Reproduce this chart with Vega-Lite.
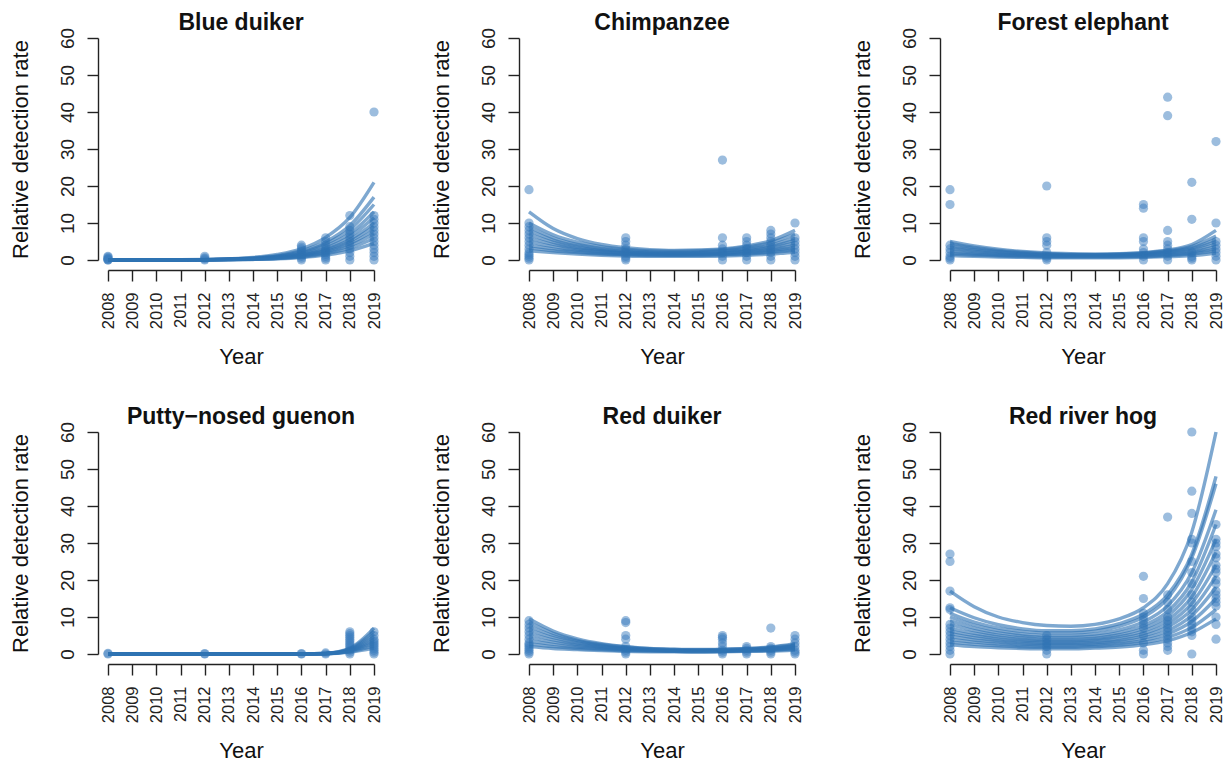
{
"$schema": "https://vega.github.io/schema/vega-lite/v6.json",
"background": "white",
"padding": {"left": 9, "top": 12, "right": 5, "bottom": 0},
"datasets": {
"names": [
{"s":1,"sp":"Blue duiker"},{"s":2,"sp":"Chimpanzee"},{"s":3,"sp":"Forest elephant"},
{"s":4,"sp":"Putty−nosed guenon"},{"s":5,"sp":"Red duiker"},{"s":6,"sp":"Red river hog"}
],
"d": [
{"s":1,"g":0,"x":2008,"v":0},{"s":1,"g":0,"x":2008,"v":0},{"s":1,"g":0,"x":2008,"v":0.2},{"s":1,"g":0,"x":2008,"v":0.3},{"s":1,"g":0,"x":2008,"v":0.5},{"s":1,"g":0,"x":2008,"v":0.8},{"s":1,"g":0,"x":2008,"v":1},
{"s":1,"g":0,"x":2012,"v":0},{"s":1,"g":0,"x":2012,"v":0.3},{"s":1,"g":0,"x":2012,"v":0.6},{"s":1,"g":0,"x":2012,"v":1},
{"s":1,"g":0,"x":2016,"v":0},{"s":1,"g":0,"x":2016,"v":0.5},{"s":1,"g":0,"x":2016,"v":1},{"s":1,"g":0,"x":2016,"v":1.5},{"s":1,"g":0,"x":2016,"v":2},{"s":1,"g":0,"x":2016,"v":2.5},{"s":1,"g":0,"x":2016,"v":3},{"s":1,"g":0,"x":2016,"v":3.5},{"s":1,"g":0,"x":2016,"v":4},
{"s":1,"g":0,"x":2017,"v":0},{"s":1,"g":0,"x":2017,"v":0.5},{"s":1,"g":0,"x":2017,"v":1},{"s":1,"g":0,"x":2017,"v":1.5},{"s":1,"g":0,"x":2017,"v":2},{"s":1,"g":0,"x":2017,"v":2.5},{"s":1,"g":0,"x":2017,"v":3},{"s":1,"g":0,"x":2017,"v":4},{"s":1,"g":0,"x":2017,"v":5},{"s":1,"g":0,"x":2017,"v":6},
{"s":1,"g":0,"x":2018,"v":0},{"s":1,"g":0,"x":2018,"v":1},{"s":1,"g":0,"x":2018,"v":2},{"s":1,"g":0,"x":2018,"v":3},{"s":1,"g":0,"x":2018,"v":4},{"s":1,"g":0,"x":2018,"v":5},{"s":1,"g":0,"x":2018,"v":6},{"s":1,"g":0,"x":2018,"v":7},{"s":1,"g":0,"x":2018,"v":8},{"s":1,"g":0,"x":2018,"v":9},{"s":1,"g":0,"x":2018,"v":12},
{"s":1,"g":0,"x":2019,"v":0},{"s":1,"g":0,"x":2019,"v":1},{"s":1,"g":0,"x":2019,"v":2},{"s":1,"g":0,"x":2019,"v":3},{"s":1,"g":0,"x":2019,"v":4},{"s":1,"g":0,"x":2019,"v":5},{"s":1,"g":0,"x":2019,"v":6},{"s":1,"g":0,"x":2019,"v":7},{"s":1,"g":0,"x":2019,"v":8},{"s":1,"g":0,"x":2019,"v":9},{"s":1,"g":0,"x":2019,"v":10},{"s":1,"g":0,"x":2019,"v":11},{"s":1,"g":0,"x":2019,"v":12},{"s":1,"g":0,"x":2019,"v":40},

{"s":2,"g":0,"x":2008,"v":19},{"s":2,"g":0,"x":2008,"v":10},{"s":2,"g":0,"x":2008,"v":9},{"s":2,"g":0,"x":2008,"v":8},{"s":2,"g":0,"x":2008,"v":7},{"s":2,"g":0,"x":2008,"v":6},{"s":2,"g":0,"x":2008,"v":5},{"s":2,"g":0,"x":2008,"v":4},{"s":2,"g":0,"x":2008,"v":3},{"s":2,"g":0,"x":2008,"v":2},{"s":2,"g":0,"x":2008,"v":1.5},{"s":2,"g":0,"x":2008,"v":1},{"s":2,"g":0,"x":2008,"v":0.5},{"s":2,"g":0,"x":2008,"v":0},
{"s":2,"g":0,"x":2012,"v":6},{"s":2,"g":0,"x":2012,"v":5},{"s":2,"g":0,"x":2012,"v":4},{"s":2,"g":0,"x":2012,"v":3},{"s":2,"g":0,"x":2012,"v":2},{"s":2,"g":0,"x":2012,"v":1},{"s":2,"g":0,"x":2012,"v":0.5},{"s":2,"g":0,"x":2012,"v":0},
{"s":2,"g":0,"x":2016,"v":27},{"s":2,"g":0,"x":2016,"v":6},{"s":2,"g":0,"x":2016,"v":4},{"s":2,"g":0,"x":2016,"v":3},{"s":2,"g":0,"x":2016,"v":2},{"s":2,"g":0,"x":2016,"v":1},{"s":2,"g":0,"x":2016,"v":0},
{"s":2,"g":0,"x":2017,"v":6},{"s":2,"g":0,"x":2017,"v":5},{"s":2,"g":0,"x":2017,"v":4},{"s":2,"g":0,"x":2017,"v":3},{"s":2,"g":0,"x":2017,"v":2},{"s":2,"g":0,"x":2017,"v":1},{"s":2,"g":0,"x":2017,"v":0},
{"s":2,"g":0,"x":2018,"v":8},{"s":2,"g":0,"x":2018,"v":7},{"s":2,"g":0,"x":2018,"v":6},{"s":2,"g":0,"x":2018,"v":5},{"s":2,"g":0,"x":2018,"v":4},{"s":2,"g":0,"x":2018,"v":3},{"s":2,"g":0,"x":2018,"v":2},{"s":2,"g":0,"x":2018,"v":1},{"s":2,"g":0,"x":2018,"v":0},
{"s":2,"g":0,"x":2019,"v":10},{"s":2,"g":0,"x":2019,"v":6},{"s":2,"g":0,"x":2019,"v":5},{"s":2,"g":0,"x":2019,"v":4},{"s":2,"g":0,"x":2019,"v":3},{"s":2,"g":0,"x":2019,"v":2},{"s":2,"g":0,"x":2019,"v":1},{"s":2,"g":0,"x":2019,"v":0},

{"s":3,"g":0,"x":2008,"v":19},{"s":3,"g":0,"x":2008,"v":15},{"s":3,"g":0,"x":2008,"v":4},{"s":3,"g":0,"x":2008,"v":3},{"s":3,"g":0,"x":2008,"v":2},{"s":3,"g":0,"x":2008,"v":1},{"s":3,"g":0,"x":2008,"v":0.5},{"s":3,"g":0,"x":2008,"v":0},
{"s":3,"g":0,"x":2012,"v":20},{"s":3,"g":0,"x":2012,"v":6},{"s":3,"g":0,"x":2012,"v":5},{"s":3,"g":0,"x":2012,"v":4},{"s":3,"g":0,"x":2012,"v":2},{"s":3,"g":0,"x":2012,"v":1},{"s":3,"g":0,"x":2012,"v":0.5},{"s":3,"g":0,"x":2012,"v":0},
{"s":3,"g":0,"x":2016,"v":15},{"s":3,"g":0,"x":2016,"v":14},{"s":3,"g":0,"x":2016,"v":6},{"s":3,"g":0,"x":2016,"v":5},{"s":3,"g":0,"x":2016,"v":3},{"s":3,"g":0,"x":2016,"v":2},{"s":3,"g":0,"x":2016,"v":1},{"s":3,"g":0,"x":2016,"v":0},
{"s":3,"g":0,"x":2017,"v":44},{"s":3,"g":0,"x":2017,"v":39},{"s":3,"g":0,"x":2017,"v":8},{"s":3,"g":0,"x":2017,"v":5},{"s":3,"g":0,"x":2017,"v":4},{"s":3,"g":0,"x":2017,"v":3},{"s":3,"g":0,"x":2017,"v":2},{"s":3,"g":0,"x":2017,"v":1},{"s":3,"g":0,"x":2017,"v":0},
{"s":3,"g":0,"x":2018,"v":21},{"s":3,"g":0,"x":2018,"v":11},{"s":3,"g":0,"x":2018,"v":2},{"s":3,"g":0,"x":2018,"v":1},{"s":3,"g":0,"x":2018,"v":0.5},{"s":3,"g":0,"x":2018,"v":0},
{"s":3,"g":0,"x":2019,"v":32},{"s":3,"g":0,"x":2019,"v":10},{"s":3,"g":0,"x":2019,"v":5},{"s":3,"g":0,"x":2019,"v":4},{"s":3,"g":0,"x":2019,"v":3},{"s":3,"g":0,"x":2019,"v":2},{"s":3,"g":0,"x":2019,"v":1},{"s":3,"g":0,"x":2019,"v":0},

{"s":4,"g":0,"x":2008,"v":0},{"s":4,"g":0,"x":2008,"v":0.2},{"s":4,"g":0,"x":2012,"v":0},{"s":4,"g":0,"x":2012,"v":0.1},{"s":4,"g":0,"x":2016,"v":0},{"s":4,"g":0,"x":2016,"v":0.1},{"s":4,"g":0,"x":2017,"v":0},{"s":4,"g":0,"x":2017,"v":0.3},
{"s":4,"g":0,"x":2018,"v":0},{"s":4,"g":0,"x":2018,"v":0.5},{"s":4,"g":0,"x":2018,"v":1},{"s":4,"g":0,"x":2018,"v":1.5},{"s":4,"g":0,"x":2018,"v":2},{"s":4,"g":0,"x":2018,"v":2.5},{"s":4,"g":0,"x":2018,"v":3},{"s":4,"g":0,"x":2018,"v":3.5},{"s":4,"g":0,"x":2018,"v":4},{"s":4,"g":0,"x":2018,"v":4.5},{"s":4,"g":0,"x":2018,"v":5},{"s":4,"g":0,"x":2018,"v":5.5},{"s":4,"g":0,"x":2018,"v":6},
{"s":4,"g":0,"x":2019,"v":0},{"s":4,"g":0,"x":2019,"v":0.5},{"s":4,"g":0,"x":2019,"v":1},{"s":4,"g":0,"x":2019,"v":1.5},{"s":4,"g":0,"x":2019,"v":2},{"s":4,"g":0,"x":2019,"v":2.5},{"s":4,"g":0,"x":2019,"v":3},{"s":4,"g":0,"x":2019,"v":3.5},{"s":4,"g":0,"x":2019,"v":4},{"s":4,"g":0,"x":2019,"v":5},{"s":4,"g":0,"x":2019,"v":6},

{"s":5,"g":0,"x":2008,"v":9},{"s":5,"g":0,"x":2008,"v":8},{"s":5,"g":0,"x":2008,"v":7},{"s":5,"g":0,"x":2008,"v":6},{"s":5,"g":0,"x":2008,"v":5},{"s":5,"g":0,"x":2008,"v":4},{"s":5,"g":0,"x":2008,"v":3},{"s":5,"g":0,"x":2008,"v":2.5},{"s":5,"g":0,"x":2008,"v":2},{"s":5,"g":0,"x":2008,"v":1.5},{"s":5,"g":0,"x":2008,"v":1},{"s":5,"g":0,"x":2008,"v":0.5},{"s":5,"g":0,"x":2008,"v":0},
{"s":5,"g":0,"x":2012,"v":9},{"s":5,"g":0,"x":2012,"v":8.5},{"s":5,"g":0,"x":2012,"v":5},{"s":5,"g":0,"x":2012,"v":4},{"s":5,"g":0,"x":2012,"v":2},{"s":5,"g":0,"x":2012,"v":1},{"s":5,"g":0,"x":2012,"v":0.5},{"s":5,"g":0,"x":2012,"v":0},
{"s":5,"g":0,"x":2016,"v":5},{"s":5,"g":0,"x":2016,"v":4.5},{"s":5,"g":0,"x":2016,"v":4},{"s":5,"g":0,"x":2016,"v":3},{"s":5,"g":0,"x":2016,"v":2},{"s":5,"g":0,"x":2016,"v":1},{"s":5,"g":0,"x":2016,"v":0.5},{"s":5,"g":0,"x":2016,"v":0},
{"s":5,"g":0,"x":2017,"v":2},{"s":5,"g":0,"x":2017,"v":1.5},{"s":5,"g":0,"x":2017,"v":1},{"s":5,"g":0,"x":2017,"v":0.5},{"s":5,"g":0,"x":2017,"v":0},
{"s":5,"g":0,"x":2018,"v":7},{"s":5,"g":0,"x":2018,"v":2},{"s":5,"g":0,"x":2018,"v":1.5},{"s":5,"g":0,"x":2018,"v":1},{"s":5,"g":0,"x":2018,"v":0.5},{"s":5,"g":0,"x":2018,"v":0},
{"s":5,"g":0,"x":2019,"v":5},{"s":5,"g":0,"x":2019,"v":4},{"s":5,"g":0,"x":2019,"v":3},{"s":5,"g":0,"x":2019,"v":2},{"s":5,"g":0,"x":2019,"v":1},{"s":5,"g":0,"x":2019,"v":0.5},{"s":5,"g":0,"x":2019,"v":0},

{"s":6,"g":0,"x":2008,"v":27},{"s":6,"g":0,"x":2008,"v":25},{"s":6,"g":0,"x":2008,"v":17},{"s":6,"g":0,"x":2008,"v":12.5},{"s":6,"g":0,"x":2008,"v":12},{"s":6,"g":0,"x":2008,"v":8},{"s":6,"g":0,"x":2008,"v":7},{"s":6,"g":0,"x":2008,"v":6},{"s":6,"g":0,"x":2008,"v":5},{"s":6,"g":0,"x":2008,"v":4},{"s":6,"g":0,"x":2008,"v":3},{"s":6,"g":0,"x":2008,"v":2},{"s":6,"g":0,"x":2008,"v":1},{"s":6,"g":0,"x":2008,"v":0},
{"s":6,"g":0,"x":2012,"v":5},{"s":6,"g":0,"x":2012,"v":4},{"s":6,"g":0,"x":2012,"v":3},{"s":6,"g":0,"x":2012,"v":2},{"s":6,"g":0,"x":2012,"v":1},{"s":6,"g":0,"x":2012,"v":0},
{"s":6,"g":0,"x":2016,"v":21},{"s":6,"g":0,"x":2016,"v":15},{"s":6,"g":0,"x":2016,"v":11},{"s":6,"g":0,"x":2016,"v":10},{"s":6,"g":0,"x":2016,"v":9},{"s":6,"g":0,"x":2016,"v":8},{"s":6,"g":0,"x":2016,"v":7},{"s":6,"g":0,"x":2016,"v":5},{"s":6,"g":0,"x":2016,"v":3},{"s":6,"g":0,"x":2016,"v":1},{"s":6,"g":0,"x":2016,"v":0},
{"s":6,"g":0,"x":2017,"v":37},{"s":6,"g":0,"x":2017,"v":16},{"s":6,"g":0,"x":2017,"v":14},{"s":6,"g":0,"x":2017,"v":12},{"s":6,"g":0,"x":2017,"v":10},{"s":6,"g":0,"x":2017,"v":9},{"s":6,"g":0,"x":2017,"v":8},{"s":6,"g":0,"x":2017,"v":7},{"s":6,"g":0,"x":2017,"v":6},{"s":6,"g":0,"x":2017,"v":5},{"s":6,"g":0,"x":2017,"v":4},{"s":6,"g":0,"x":2017,"v":3},{"s":6,"g":0,"x":2017,"v":2},{"s":6,"g":0,"x":2017,"v":1},
{"s":6,"g":0,"x":2018,"v":60},{"s":6,"g":0,"x":2018,"v":44},{"s":6,"g":0,"x":2018,"v":38},{"s":6,"g":0,"x":2018,"v":31},{"s":6,"g":0,"x":2018,"v":30},{"s":6,"g":0,"x":2018,"v":25},{"s":6,"g":0,"x":2018,"v":22},{"s":6,"g":0,"x":2018,"v":19},{"s":6,"g":0,"x":2018,"v":16},{"s":6,"g":0,"x":2018,"v":14},{"s":6,"g":0,"x":2018,"v":12},{"s":6,"g":0,"x":2018,"v":10},{"s":6,"g":0,"x":2018,"v":9},{"s":6,"g":0,"x":2018,"v":8},{"s":6,"g":0,"x":2018,"v":7},{"s":6,"g":0,"x":2018,"v":6},{"s":6,"g":0,"x":2018,"v":5},{"s":6,"g":0,"x":2018,"v":0},
{"s":6,"g":0,"x":2019,"v":35},{"s":6,"g":0,"x":2019,"v":31},{"s":6,"g":0,"x":2019,"v":30},{"s":6,"g":0,"x":2019,"v":29},{"s":6,"g":0,"x":2019,"v":27},{"s":6,"g":0,"x":2019,"v":26},{"s":6,"g":0,"x":2019,"v":24},{"s":6,"g":0,"x":2019,"v":23},{"s":6,"g":0,"x":2019,"v":22},{"s":6,"g":0,"x":2019,"v":20},{"s":6,"g":0,"x":2019,"v":19},{"s":6,"g":0,"x":2019,"v":17},{"s":6,"g":0,"x":2019,"v":16},{"s":6,"g":0,"x":2019,"v":15},{"s":6,"g":0,"x":2019,"v":14},{"s":6,"g":0,"x":2019,"v":13},{"s":6,"g":0,"x":2019,"v":10},{"s":6,"g":0,"x":2019,"v":8},{"s":6,"g":0,"x":2019,"v":4},

{"s":1,"g":1,"x":2008,"v":0.01},{"s":1,"g":1,"x":2009,"v":0.02},{"s":1,"g":1,"x":2010,"v":0.03},{"s":1,"g":1,"x":2011,"v":0.06},{"s":1,"g":1,"x":2012,"v":0.15},{"s":1,"g":1,"x":2013,"v":0.34},{"s":1,"g":1,"x":2014,"v":0.7},{"s":1,"g":1,"x":2015,"v":1.5},{"s":1,"g":1,"x":2016,"v":3.0},{"s":1,"g":1,"x":2017,"v":6.1},{"s":1,"g":1,"x":2018,"v":11.5},{"s":1,"g":1,"x":2019,"v":21},
{"s":1,"g":2,"x":2008,"v":0.01},{"s":1,"g":2,"x":2009,"v":0.01},{"s":1,"g":2,"x":2010,"v":0.03},{"s":1,"g":2,"x":2011,"v":0.05},{"s":1,"g":2,"x":2012,"v":0.12},{"s":1,"g":2,"x":2013,"v":0.27},{"s":1,"g":2,"x":2014,"v":0.56},{"s":1,"g":2,"x":2015,"v":1.2},{"s":1,"g":2,"x":2016,"v":2.5},{"s":1,"g":2,"x":2017,"v":4.9},{"s":1,"g":2,"x":2018,"v":9.3},{"s":1,"g":2,"x":2019,"v":17},
{"s":1,"g":3,"x":2008,"v":0.01},{"s":1,"g":3,"x":2009,"v":0.01},{"s":1,"g":3,"x":2010,"v":0.02},{"s":1,"g":3,"x":2011,"v":0.05},{"s":1,"g":3,"x":2012,"v":0.1},{"s":1,"g":3,"x":2013,"v":0.24},{"s":1,"g":3,"x":2014,"v":0.5},{"s":1,"g":3,"x":2015,"v":1.05},{"s":1,"g":3,"x":2016,"v":2.2},{"s":1,"g":3,"x":2017,"v":4.4},{"s":1,"g":3,"x":2018,"v":8.2},{"s":1,"g":3,"x":2019,"v":15},
{"s":1,"g":4,"x":2008,"v":0.01},{"s":1,"g":4,"x":2009,"v":0.01},{"s":1,"g":4,"x":2010,"v":0.02},{"s":1,"g":4,"x":2011,"v":0.04},{"s":1,"g":4,"x":2012,"v":0.09},{"s":1,"g":4,"x":2013,"v":0.21},{"s":1,"g":4,"x":2014,"v":0.43},{"s":1,"g":4,"x":2015,"v":0.9},{"s":1,"g":4,"x":2016,"v":1.9},{"s":1,"g":4,"x":2017,"v":3.8},{"s":1,"g":4,"x":2018,"v":7.1},{"s":1,"g":4,"x":2019,"v":13},
{"s":1,"g":5,"x":2008,"v":0.01},{"s":1,"g":5,"x":2009,"v":0.01},{"s":1,"g":5,"x":2010,"v":0.02},{"s":1,"g":5,"x":2011,"v":0.04},{"s":1,"g":5,"x":2012,"v":0.08},{"s":1,"g":5,"x":2013,"v":0.18},{"s":1,"g":5,"x":2014,"v":0.38},{"s":1,"g":5,"x":2015,"v":0.8},{"s":1,"g":5,"x":2016,"v":1.7},{"s":1,"g":5,"x":2017,"v":3.3},{"s":1,"g":5,"x":2018,"v":6.3},{"s":1,"g":5,"x":2019,"v":11.5},
{"s":1,"g":6,"x":2008,"v":0.01},{"s":1,"g":6,"x":2009,"v":0.01},{"s":1,"g":6,"x":2010,"v":0.02},{"s":1,"g":6,"x":2011,"v":0.03},{"s":1,"g":6,"x":2012,"v":0.07},{"s":1,"g":6,"x":2013,"v":0.16},{"s":1,"g":6,"x":2014,"v":0.33},{"s":1,"g":6,"x":2015,"v":0.7},{"s":1,"g":6,"x":2016,"v":1.45},{"s":1,"g":6,"x":2017,"v":2.9},{"s":1,"g":6,"x":2018,"v":5.5},{"s":1,"g":6,"x":2019,"v":10},
{"s":1,"g":7,"x":2008,"v":0},{"s":1,"g":7,"x":2009,"v":0.01},{"s":1,"g":7,"x":2010,"v":0.01},{"s":1,"g":7,"x":2011,"v":0.03},{"s":1,"g":7,"x":2012,"v":0.06},{"s":1,"g":7,"x":2013,"v":0.14},{"s":1,"g":7,"x":2014,"v":0.3},{"s":1,"g":7,"x":2015,"v":0.63},{"s":1,"g":7,"x":2016,"v":1.3},{"s":1,"g":7,"x":2017,"v":2.6},{"s":1,"g":7,"x":2018,"v":5.0},{"s":1,"g":7,"x":2019,"v":9},
{"s":1,"g":8,"x":2008,"v":0},{"s":1,"g":8,"x":2009,"v":0.01},{"s":1,"g":8,"x":2010,"v":0.01},{"s":1,"g":8,"x":2011,"v":0.02},{"s":1,"g":8,"x":2012,"v":0.05},{"s":1,"g":8,"x":2013,"v":0.12},{"s":1,"g":8,"x":2014,"v":0.26},{"s":1,"g":8,"x":2015,"v":0.56},{"s":1,"g":8,"x":2016,"v":1.16},{"s":1,"g":8,"x":2017,"v":2.3},{"s":1,"g":8,"x":2018,"v":4.4},{"s":1,"g":8,"x":2019,"v":8},
{"s":1,"g":9,"x":2008,"v":0},{"s":1,"g":9,"x":2009,"v":0},{"s":1,"g":9,"x":2010,"v":0.01},{"s":1,"g":9,"x":2011,"v":0.02},{"s":1,"g":9,"x":2012,"v":0.05},{"s":1,"g":9,"x":2013,"v":0.11},{"s":1,"g":9,"x":2014,"v":0.23},{"s":1,"g":9,"x":2015,"v":0.49},{"s":1,"g":9,"x":2016,"v":1.0},{"s":1,"g":9,"x":2017,"v":2.0},{"s":1,"g":9,"x":2018,"v":3.9},{"s":1,"g":9,"x":2019,"v":7},
{"s":1,"g":10,"x":2008,"v":0},{"s":1,"g":10,"x":2009,"v":0},{"s":1,"g":10,"x":2010,"v":0.01},{"s":1,"g":10,"x":2011,"v":0.02},{"s":1,"g":10,"x":2012,"v":0.04},{"s":1,"g":10,"x":2013,"v":0.09},{"s":1,"g":10,"x":2014,"v":0.19},{"s":1,"g":10,"x":2015,"v":0.4},{"s":1,"g":10,"x":2016,"v":0.85},{"s":1,"g":10,"x":2017,"v":1.7},{"s":1,"g":10,"x":2018,"v":3.2},{"s":1,"g":10,"x":2019,"v":5.8},
{"s":1,"g":11,"x":2008,"v":0},{"s":1,"g":11,"x":2009,"v":0},{"s":1,"g":11,"x":2010,"v":0.01},{"s":1,"g":11,"x":2011,"v":0.01},{"s":1,"g":11,"x":2012,"v":0.03},{"s":1,"g":11,"x":2013,"v":0.07},{"s":1,"g":11,"x":2014,"v":0.15},{"s":1,"g":11,"x":2015,"v":0.31},{"s":1,"g":11,"x":2016,"v":0.65},{"s":1,"g":11,"x":2017,"v":1.3},{"s":1,"g":11,"x":2018,"v":2.5},{"s":1,"g":11,"x":2019,"v":4.5},

{"s":2,"g":1,"x":2008,"v":13},{"s":2,"g":1,"x":2009,"v":8.5},{"s":2,"g":1,"x":2010,"v":5.8},{"s":2,"g":1,"x":2011,"v":4.2},{"s":2,"g":1,"x":2012,"v":3.3},{"s":2,"g":1,"x":2013,"v":2.8},{"s":2,"g":1,"x":2014,"v":2.6},{"s":2,"g":1,"x":2015,"v":2.7},{"s":2,"g":1,"x":2016,"v":3.0},{"s":2,"g":1,"x":2017,"v":3.8},{"s":2,"g":1,"x":2018,"v":5.2},{"s":2,"g":1,"x":2019,"v":8.0},
{"s":2,"g":2,"x":2008,"v":10},{"s":2,"g":2,"x":2009,"v":6.8},{"s":2,"g":2,"x":2010,"v":4.8},{"s":2,"g":2,"x":2011,"v":3.6},{"s":2,"g":2,"x":2012,"v":2.9},{"s":2,"g":2,"x":2013,"v":2.5},{"s":2,"g":2,"x":2014,"v":2.4},{"s":2,"g":2,"x":2015,"v":2.5},{"s":2,"g":2,"x":2016,"v":2.8},{"s":2,"g":2,"x":2017,"v":3.5},{"s":2,"g":2,"x":2018,"v":4.7},{"s":2,"g":2,"x":2019,"v":7.0},
{"s":2,"g":3,"x":2008,"v":9},{"s":2,"g":3,"x":2009,"v":6.0},{"s":2,"g":3,"x":2010,"v":4.2},{"s":2,"g":3,"x":2011,"v":3.1},{"s":2,"g":3,"x":2012,"v":2.5},{"s":2,"g":3,"x":2013,"v":2.2},{"s":2,"g":3,"x":2014,"v":2.1},{"s":2,"g":3,"x":2015,"v":2.2},{"s":2,"g":3,"x":2016,"v":2.5},{"s":2,"g":3,"x":2017,"v":3.1},{"s":2,"g":3,"x":2018,"v":4.1},{"s":2,"g":3,"x":2019,"v":6.0},
{"s":2,"g":4,"x":2008,"v":8},{"s":2,"g":4,"x":2009,"v":5.4},{"s":2,"g":4,"x":2010,"v":3.8},{"s":2,"g":4,"x":2011,"v":2.8},{"s":2,"g":4,"x":2012,"v":2.3},{"s":2,"g":4,"x":2013,"v":2.0},{"s":2,"g":4,"x":2014,"v":1.9},{"s":2,"g":4,"x":2015,"v":2.0},{"s":2,"g":4,"x":2016,"v":2.3},{"s":2,"g":4,"x":2017,"v":2.8},{"s":2,"g":4,"x":2018,"v":3.7},{"s":2,"g":4,"x":2019,"v":5.3},
{"s":2,"g":5,"x":2008,"v":7},{"s":2,"g":5,"x":2009,"v":4.8},{"s":2,"g":5,"x":2010,"v":3.4},{"s":2,"g":5,"x":2011,"v":2.6},{"s":2,"g":5,"x":2012,"v":2.1},{"s":2,"g":5,"x":2013,"v":1.8},{"s":2,"g":5,"x":2014,"v":1.7},{"s":2,"g":5,"x":2015,"v":1.8},{"s":2,"g":5,"x":2016,"v":2.0},{"s":2,"g":5,"x":2017,"v":2.5},{"s":2,"g":5,"x":2018,"v":3.3},{"s":2,"g":5,"x":2019,"v":4.6},
{"s":2,"g":6,"x":2008,"v":6},{"s":2,"g":6,"x":2009,"v":4.2},{"s":2,"g":6,"x":2010,"v":3.0},{"s":2,"g":6,"x":2011,"v":2.3},{"s":2,"g":6,"x":2012,"v":1.9},{"s":2,"g":6,"x":2013,"v":1.7},{"s":2,"g":6,"x":2014,"v":1.6},{"s":2,"g":6,"x":2015,"v":1.7},{"s":2,"g":6,"x":2016,"v":1.9},{"s":2,"g":6,"x":2017,"v":2.3},{"s":2,"g":6,"x":2018,"v":2.9},{"s":2,"g":6,"x":2019,"v":4.0},
{"s":2,"g":7,"x":2008,"v":5},{"s":2,"g":7,"x":2009,"v":3.6},{"s":2,"g":7,"x":2010,"v":2.7},{"s":2,"g":7,"x":2011,"v":2.1},{"s":2,"g":7,"x":2012,"v":1.7},{"s":2,"g":7,"x":2013,"v":1.5},{"s":2,"g":7,"x":2014,"v":1.5},{"s":2,"g":7,"x":2015,"v":1.5},{"s":2,"g":7,"x":2016,"v":1.7},{"s":2,"g":7,"x":2017,"v":2.1},{"s":2,"g":7,"x":2018,"v":2.6},{"s":2,"g":7,"x":2019,"v":3.5},
{"s":2,"g":8,"x":2008,"v":4},{"s":2,"g":8,"x":2009,"v":3.0},{"s":2,"g":8,"x":2010,"v":2.3},{"s":2,"g":8,"x":2011,"v":1.8},{"s":2,"g":8,"x":2012,"v":1.5},{"s":2,"g":8,"x":2013,"v":1.4},{"s":2,"g":8,"x":2014,"v":1.3},{"s":2,"g":8,"x":2015,"v":1.4},{"s":2,"g":8,"x":2016,"v":1.5},{"s":2,"g":8,"x":2017,"v":1.8},{"s":2,"g":8,"x":2018,"v":2.3},{"s":2,"g":8,"x":2019,"v":3.0},
{"s":2,"g":9,"x":2008,"v":3.2},{"s":2,"g":9,"x":2009,"v":2.5},{"s":2,"g":9,"x":2010,"v":2.0},{"s":2,"g":9,"x":2011,"v":1.6},{"s":2,"g":9,"x":2012,"v":1.4},{"s":2,"g":9,"x":2013,"v":1.2},{"s":2,"g":9,"x":2014,"v":1.2},{"s":2,"g":9,"x":2015,"v":1.2},{"s":2,"g":9,"x":2016,"v":1.4},{"s":2,"g":9,"x":2017,"v":1.6},{"s":2,"g":9,"x":2018,"v":2.0},{"s":2,"g":9,"x":2019,"v":2.6},
{"s":2,"g":10,"x":2008,"v":2.5},{"s":2,"g":10,"x":2009,"v":2.0},{"s":2,"g":10,"x":2010,"v":1.6},{"s":2,"g":10,"x":2011,"v":1.3},{"s":2,"g":10,"x":2012,"v":1.1},{"s":2,"g":10,"x":2013,"v":1.0},{"s":2,"g":10,"x":2014,"v":1.0},{"s":2,"g":10,"x":2015,"v":1.0},{"s":2,"g":10,"x":2016,"v":1.1},{"s":2,"g":10,"x":2017,"v":1.3},{"s":2,"g":10,"x":2018,"v":1.6},{"s":2,"g":10,"x":2019,"v":2.1},

{"s":3,"g":1,"x":2008,"v":5.0},{"s":3,"g":1,"x":2009,"v":3.8},{"s":3,"g":1,"x":2010,"v":2.9},{"s":3,"g":1,"x":2011,"v":2.3},{"s":3,"g":1,"x":2012,"v":1.9},{"s":3,"g":1,"x":2013,"v":1.7},{"s":3,"g":1,"x":2014,"v":1.6},{"s":3,"g":1,"x":2015,"v":1.7},{"s":3,"g":1,"x":2016,"v":2.0},{"s":3,"g":1,"x":2017,"v":2.7},{"s":3,"g":1,"x":2018,"v":4.2},{"s":3,"g":1,"x":2019,"v":8.0},
{"s":3,"g":2,"x":2008,"v":4.5},{"s":3,"g":2,"x":2009,"v":3.4},{"s":3,"g":2,"x":2010,"v":2.6},{"s":3,"g":2,"x":2011,"v":2.1},{"s":3,"g":2,"x":2012,"v":1.7},{"s":3,"g":2,"x":2013,"v":1.5},{"s":3,"g":2,"x":2014,"v":1.5},{"s":3,"g":2,"x":2015,"v":1.6},{"s":3,"g":2,"x":2016,"v":1.9},{"s":3,"g":2,"x":2017,"v":2.5},{"s":3,"g":2,"x":2018,"v":3.7},{"s":3,"g":2,"x":2019,"v":6.5},
{"s":3,"g":3,"x":2008,"v":4.0},{"s":3,"g":3,"x":2009,"v":3.0},{"s":3,"g":3,"x":2010,"v":2.3},{"s":3,"g":3,"x":2011,"v":1.9},{"s":3,"g":3,"x":2012,"v":1.6},{"s":3,"g":3,"x":2013,"v":1.4},{"s":3,"g":3,"x":2014,"v":1.4},{"s":3,"g":3,"x":2015,"v":1.5},{"s":3,"g":3,"x":2016,"v":1.8},{"s":3,"g":3,"x":2017,"v":2.3},{"s":3,"g":3,"x":2018,"v":3.3},{"s":3,"g":3,"x":2019,"v":5.6},
{"s":3,"g":4,"x":2008,"v":3.5},{"s":3,"g":4,"x":2009,"v":2.7},{"s":3,"g":4,"x":2010,"v":2.1},{"s":3,"g":4,"x":2011,"v":1.7},{"s":3,"g":4,"x":2012,"v":1.4},{"s":3,"g":4,"x":2013,"v":1.3},{"s":3,"g":4,"x":2014,"v":1.3},{"s":3,"g":4,"x":2015,"v":1.4},{"s":3,"g":4,"x":2016,"v":1.6},{"s":3,"g":4,"x":2017,"v":2.1},{"s":3,"g":4,"x":2018,"v":3.0},{"s":3,"g":4,"x":2019,"v":5.0},
{"s":3,"g":5,"x":2008,"v":3.0},{"s":3,"g":5,"x":2009,"v":2.3},{"s":3,"g":5,"x":2010,"v":1.8},{"s":3,"g":5,"x":2011,"v":1.5},{"s":3,"g":5,"x":2012,"v":1.3},{"s":3,"g":5,"x":2013,"v":1.2},{"s":3,"g":5,"x":2014,"v":1.2},{"s":3,"g":5,"x":2015,"v":1.3},{"s":3,"g":5,"x":2016,"v":1.5},{"s":3,"g":5,"x":2017,"v":1.9},{"s":3,"g":5,"x":2018,"v":2.6},{"s":3,"g":5,"x":2019,"v":4.3},
{"s":3,"g":6,"x":2008,"v":2.5},{"s":3,"g":6,"x":2009,"v":1.9},{"s":3,"g":6,"x":2010,"v":1.5},{"s":3,"g":6,"x":2011,"v":1.3},{"s":3,"g":6,"x":2012,"v":1.1},{"s":3,"g":6,"x":2013,"v":1.0},{"s":3,"g":6,"x":2014,"v":1.0},{"s":3,"g":6,"x":2015,"v":1.1},{"s":3,"g":6,"x":2016,"v":1.3},{"s":3,"g":6,"x":2017,"v":1.6},{"s":3,"g":6,"x":2018,"v":2.2},{"s":3,"g":6,"x":2019,"v":3.6},
{"s":3,"g":7,"x":2008,"v":2.0},{"s":3,"g":7,"x":2009,"v":1.6},{"s":3,"g":7,"x":2010,"v":1.3},{"s":3,"g":7,"x":2011,"v":1.1},{"s":3,"g":7,"x":2012,"v":1.0},{"s":3,"g":7,"x":2013,"v":0.9},{"s":3,"g":7,"x":2014,"v":0.9},{"s":3,"g":7,"x":2015,"v":1.0},{"s":3,"g":7,"x":2016,"v":1.1},{"s":3,"g":7,"x":2017,"v":1.4},{"s":3,"g":7,"x":2018,"v":1.9},{"s":3,"g":7,"x":2019,"v":3.0},
{"s":3,"g":8,"x":2008,"v":1.6},{"s":3,"g":8,"x":2009,"v":1.3},{"s":3,"g":8,"x":2010,"v":1.1},{"s":3,"g":8,"x":2011,"v":0.9},{"s":3,"g":8,"x":2012,"v":0.8},{"s":3,"g":8,"x":2013,"v":0.8},{"s":3,"g":8,"x":2014,"v":0.8},{"s":3,"g":8,"x":2015,"v":0.8},{"s":3,"g":8,"x":2016,"v":0.9},{"s":3,"g":8,"x":2017,"v":1.2},{"s":3,"g":8,"x":2018,"v":1.6},{"s":3,"g":8,"x":2019,"v":2.5},
{"s":3,"g":9,"x":2008,"v":1.2},{"s":3,"g":9,"x":2009,"v":1.0},{"s":3,"g":9,"x":2010,"v":0.8},{"s":3,"g":9,"x":2011,"v":0.7},{"s":3,"g":9,"x":2012,"v":0.6},{"s":3,"g":9,"x":2013,"v":0.6},{"s":3,"g":9,"x":2014,"v":0.6},{"s":3,"g":9,"x":2015,"v":0.6},{"s":3,"g":9,"x":2016,"v":0.7},{"s":3,"g":9,"x":2017,"v":0.9},{"s":3,"g":9,"x":2018,"v":1.2},{"s":3,"g":9,"x":2019,"v":1.9},

{"s":4,"g":1,"x":2008,"v":0},{"s":4,"g":1,"x":2009,"v":0},{"s":4,"g":1,"x":2010,"v":0},{"s":4,"g":1,"x":2011,"v":0},{"s":4,"g":1,"x":2012,"v":0},{"s":4,"g":1,"x":2013,"v":0},{"s":4,"g":1,"x":2014,"v":0},{"s":4,"g":1,"x":2015,"v":0.01},{"s":4,"g":1,"x":2016,"v":0.03},{"s":4,"g":1,"x":2017,"v":0.2},{"s":4,"g":1,"x":2018,"v":1.6},{"s":4,"g":1,"x":2019,"v":7.0},
{"s":4,"g":2,"x":2008,"v":0},{"s":4,"g":2,"x":2009,"v":0},{"s":4,"g":2,"x":2010,"v":0},{"s":4,"g":2,"x":2011,"v":0},{"s":4,"g":2,"x":2012,"v":0},{"s":4,"g":2,"x":2013,"v":0},{"s":4,"g":2,"x":2014,"v":0},{"s":4,"g":2,"x":2015,"v":0.01},{"s":4,"g":2,"x":2016,"v":0.03},{"s":4,"g":2,"x":2017,"v":0.18},{"s":4,"g":2,"x":2018,"v":1.4},{"s":4,"g":2,"x":2019,"v":6.2},
{"s":4,"g":3,"x":2008,"v":0},{"s":4,"g":3,"x":2009,"v":0},{"s":4,"g":3,"x":2010,"v":0},{"s":4,"g":3,"x":2011,"v":0},{"s":4,"g":3,"x":2012,"v":0},{"s":4,"g":3,"x":2013,"v":0},{"s":4,"g":3,"x":2014,"v":0},{"s":4,"g":3,"x":2015,"v":0.01},{"s":4,"g":3,"x":2016,"v":0.02},{"s":4,"g":3,"x":2017,"v":0.15},{"s":4,"g":3,"x":2018,"v":1.25},{"s":4,"g":3,"x":2019,"v":5.4},
{"s":4,"g":4,"x":2008,"v":0},{"s":4,"g":4,"x":2009,"v":0},{"s":4,"g":4,"x":2010,"v":0},{"s":4,"g":4,"x":2011,"v":0},{"s":4,"g":4,"x":2012,"v":0},{"s":4,"g":4,"x":2013,"v":0},{"s":4,"g":4,"x":2014,"v":0},{"s":4,"g":4,"x":2015,"v":0.01},{"s":4,"g":4,"x":2016,"v":0.02},{"s":4,"g":4,"x":2017,"v":0.13},{"s":4,"g":4,"x":2018,"v":1.1},{"s":4,"g":4,"x":2019,"v":4.7},
{"s":4,"g":5,"x":2008,"v":0},{"s":4,"g":5,"x":2009,"v":0},{"s":4,"g":5,"x":2010,"v":0},{"s":4,"g":5,"x":2011,"v":0},{"s":4,"g":5,"x":2012,"v":0},{"s":4,"g":5,"x":2013,"v":0},{"s":4,"g":5,"x":2014,"v":0},{"s":4,"g":5,"x":2015,"v":0},{"s":4,"g":5,"x":2016,"v":0.02},{"s":4,"g":5,"x":2017,"v":0.11},{"s":4,"g":5,"x":2018,"v":1.0},{"s":4,"g":5,"x":2019,"v":4.0},
{"s":4,"g":6,"x":2008,"v":0},{"s":4,"g":6,"x":2009,"v":0},{"s":4,"g":6,"x":2010,"v":0},{"s":4,"g":6,"x":2011,"v":0},{"s":4,"g":6,"x":2012,"v":0},{"s":4,"g":6,"x":2013,"v":0},{"s":4,"g":6,"x":2014,"v":0},{"s":4,"g":6,"x":2015,"v":0},{"s":4,"g":6,"x":2016,"v":0.01},{"s":4,"g":6,"x":2017,"v":0.1},{"s":4,"g":6,"x":2018,"v":0.9},{"s":4,"g":6,"x":2019,"v":3.4},
{"s":4,"g":7,"x":2008,"v":0},{"s":4,"g":7,"x":2009,"v":0},{"s":4,"g":7,"x":2010,"v":0},{"s":4,"g":7,"x":2011,"v":0},{"s":4,"g":7,"x":2012,"v":0},{"s":4,"g":7,"x":2013,"v":0},{"s":4,"g":7,"x":2014,"v":0},{"s":4,"g":7,"x":2015,"v":0},{"s":4,"g":7,"x":2016,"v":0.01},{"s":4,"g":7,"x":2017,"v":0.08},{"s":4,"g":7,"x":2018,"v":0.8},{"s":4,"g":7,"x":2019,"v":2.8},
{"s":4,"g":8,"x":2008,"v":0},{"s":4,"g":8,"x":2009,"v":0},{"s":4,"g":8,"x":2010,"v":0},{"s":4,"g":8,"x":2011,"v":0},{"s":4,"g":8,"x":2012,"v":0},{"s":4,"g":8,"x":2013,"v":0},{"s":4,"g":8,"x":2014,"v":0},{"s":4,"g":8,"x":2015,"v":0},{"s":4,"g":8,"x":2016,"v":0.01},{"s":4,"g":8,"x":2017,"v":0.07},{"s":4,"g":8,"x":2018,"v":0.65},{"s":4,"g":8,"x":2019,"v":2.2},
{"s":4,"g":9,"x":2008,"v":0},{"s":4,"g":9,"x":2009,"v":0},{"s":4,"g":9,"x":2010,"v":0},{"s":4,"g":9,"x":2011,"v":0},{"s":4,"g":9,"x":2012,"v":0},{"s":4,"g":9,"x":2013,"v":0},{"s":4,"g":9,"x":2014,"v":0},{"s":4,"g":9,"x":2015,"v":0},{"s":4,"g":9,"x":2016,"v":0.01},{"s":4,"g":9,"x":2017,"v":0.05},{"s":4,"g":9,"x":2018,"v":0.5},{"s":4,"g":9,"x":2019,"v":1.6},

{"s":5,"g":1,"x":2008,"v":9.5},{"s":5,"g":1,"x":2009,"v":6.2},{"s":5,"g":1,"x":2010,"v":4.1},{"s":5,"g":1,"x":2011,"v":2.8},{"s":5,"g":1,"x":2012,"v":2.0},{"s":5,"g":1,"x":2013,"v":1.5},{"s":5,"g":1,"x":2014,"v":1.3},{"s":5,"g":1,"x":2015,"v":1.2},{"s":5,"g":1,"x":2016,"v":1.3},{"s":5,"g":1,"x":2017,"v":1.5},{"s":5,"g":1,"x":2018,"v":1.9},{"s":5,"g":1,"x":2019,"v":2.8},
{"s":5,"g":2,"x":2008,"v":8.5},{"s":5,"g":2,"x":2009,"v":5.6},{"s":5,"g":2,"x":2010,"v":3.7},{"s":5,"g":2,"x":2011,"v":2.6},{"s":5,"g":2,"x":2012,"v":1.9},{"s":5,"g":2,"x":2013,"v":1.4},{"s":5,"g":2,"x":2014,"v":1.2},{"s":5,"g":2,"x":2015,"v":1.1},{"s":5,"g":2,"x":2016,"v":1.2},{"s":5,"g":2,"x":2017,"v":1.4},{"s":5,"g":2,"x":2018,"v":1.8},{"s":5,"g":2,"x":2019,"v":2.5},
{"s":5,"g":3,"x":2008,"v":7.5},{"s":5,"g":3,"x":2009,"v":5.0},{"s":5,"g":3,"x":2010,"v":3.4},{"s":5,"g":3,"x":2011,"v":2.4},{"s":5,"g":3,"x":2012,"v":1.7},{"s":5,"g":3,"x":2013,"v":1.3},{"s":5,"g":3,"x":2014,"v":1.1},{"s":5,"g":3,"x":2015,"v":1.0},{"s":5,"g":3,"x":2016,"v":1.1},{"s":5,"g":3,"x":2017,"v":1.3},{"s":5,"g":3,"x":2018,"v":1.6},{"s":5,"g":3,"x":2019,"v":2.3},
{"s":5,"g":4,"x":2008,"v":6.5},{"s":5,"g":4,"x":2009,"v":4.4},{"s":5,"g":4,"x":2010,"v":3.0},{"s":5,"g":4,"x":2011,"v":2.1},{"s":5,"g":4,"x":2012,"v":1.5},{"s":5,"g":4,"x":2013,"v":1.2},{"s":5,"g":4,"x":2014,"v":1.0},{"s":5,"g":4,"x":2015,"v":1.0},{"s":5,"g":4,"x":2016,"v":1.0},{"s":5,"g":4,"x":2017,"v":1.2},{"s":5,"g":4,"x":2018,"v":1.5},{"s":5,"g":4,"x":2019,"v":2.1},
{"s":5,"g":5,"x":2008,"v":5.5},{"s":5,"g":5,"x":2009,"v":3.8},{"s":5,"g":5,"x":2010,"v":2.6},{"s":5,"g":5,"x":2011,"v":1.9},{"s":5,"g":5,"x":2012,"v":1.4},{"s":5,"g":5,"x":2013,"v":1.1},{"s":5,"g":5,"x":2014,"v":0.9},{"s":5,"g":5,"x":2015,"v":0.9},{"s":5,"g":5,"x":2016,"v":0.9},{"s":5,"g":5,"x":2017,"v":1.1},{"s":5,"g":5,"x":2018,"v":1.4},{"s":5,"g":5,"x":2019,"v":1.9},
{"s":5,"g":6,"x":2008,"v":4.5},{"s":5,"g":6,"x":2009,"v":3.2},{"s":5,"g":6,"x":2010,"v":2.3},{"s":5,"g":6,"x":2011,"v":1.7},{"s":5,"g":6,"x":2012,"v":1.2},{"s":5,"g":6,"x":2013,"v":1.0},{"s":5,"g":6,"x":2014,"v":0.8},{"s":5,"g":6,"x":2015,"v":0.8},{"s":5,"g":6,"x":2016,"v":0.8},{"s":5,"g":6,"x":2017,"v":1.0},{"s":5,"g":6,"x":2018,"v":1.2},{"s":5,"g":6,"x":2019,"v":1.7},
{"s":5,"g":7,"x":2008,"v":3.5},{"s":5,"g":7,"x":2009,"v":2.6},{"s":5,"g":7,"x":2010,"v":1.9},{"s":5,"g":7,"x":2011,"v":1.4},{"s":5,"g":7,"x":2012,"v":1.1},{"s":5,"g":7,"x":2013,"v":0.9},{"s":5,"g":7,"x":2014,"v":0.8},{"s":5,"g":7,"x":2015,"v":0.7},{"s":5,"g":7,"x":2016,"v":0.8},{"s":5,"g":7,"x":2017,"v":0.9},{"s":5,"g":7,"x":2018,"v":1.1},{"s":5,"g":7,"x":2019,"v":1.5},
{"s":5,"g":8,"x":2008,"v":2.7},{"s":5,"g":8,"x":2009,"v":2.0},{"s":5,"g":8,"x":2010,"v":1.5},{"s":5,"g":8,"x":2011,"v":1.2},{"s":5,"g":8,"x":2012,"v":0.9},{"s":5,"g":8,"x":2013,"v":0.8},{"s":5,"g":8,"x":2014,"v":0.7},{"s":5,"g":8,"x":2015,"v":0.6},{"s":5,"g":8,"x":2016,"v":0.7},{"s":5,"g":8,"x":2017,"v":0.8},{"s":5,"g":8,"x":2018,"v":1.0},{"s":5,"g":8,"x":2019,"v":1.3},
{"s":5,"g":9,"x":2008,"v":2.0},{"s":5,"g":9,"x":2009,"v":1.5},{"s":5,"g":9,"x":2010,"v":1.2},{"s":5,"g":9,"x":2011,"v":0.9},{"s":5,"g":9,"x":2012,"v":0.7},{"s":5,"g":9,"x":2013,"v":0.6},{"s":5,"g":9,"x":2014,"v":0.6},{"s":5,"g":9,"x":2015,"v":0.5},{"s":5,"g":9,"x":2016,"v":0.6},{"s":5,"g":9,"x":2017,"v":0.7},{"s":5,"g":9,"x":2018,"v":0.8},{"s":5,"g":9,"x":2019,"v":1.1},

{"s":6,"g":1,"x":2008,"v":17},{"s":6,"g":1,"x":2009,"v":12.8},{"s":6,"g":1,"x":2010,"v":10.0},{"s":6,"g":1,"x":2011,"v":8.5},{"s":6,"g":1,"x":2012,"v":7.7},{"s":6,"g":1,"x":2013,"v":7.5},{"s":6,"g":1,"x":2014,"v":8.0},{"s":6,"g":1,"x":2015,"v":9.5},{"s":6,"g":1,"x":2016,"v":12.5},{"s":6,"g":1,"x":2017,"v":19},{"s":6,"g":1,"x":2018,"v":33},{"s":6,"g":1,"x":2019,"v":60},
{"s":6,"g":2,"x":2008,"v":12.5},{"s":6,"g":2,"x":2009,"v":9.8},{"s":6,"g":2,"x":2010,"v":7.9},{"s":6,"g":2,"x":2011,"v":6.8},{"s":6,"g":2,"x":2012,"v":6.3},{"s":6,"g":2,"x":2013,"v":6.3},{"s":6,"g":2,"x":2014,"v":6.8},{"s":6,"g":2,"x":2015,"v":8.2},{"s":6,"g":2,"x":2016,"v":10.8},{"s":6,"g":2,"x":2017,"v":16},{"s":6,"g":2,"x":2018,"v":27},{"s":6,"g":2,"x":2019,"v":48},
{"s":6,"g":3,"x":2008,"v":11},{"s":6,"g":3,"x":2009,"v":8.6},{"s":6,"g":3,"x":2010,"v":7.0},{"s":6,"g":3,"x":2011,"v":6.1},{"s":6,"g":3,"x":2012,"v":5.7},{"s":6,"g":3,"x":2013,"v":5.7},{"s":6,"g":3,"x":2014,"v":6.2},{"s":6,"g":3,"x":2015,"v":7.5},{"s":6,"g":3,"x":2016,"v":10},{"s":6,"g":3,"x":2017,"v":15},{"s":6,"g":3,"x":2018,"v":26},{"s":6,"g":3,"x":2019,"v":46},
{"s":6,"g":4,"x":2008,"v":10},{"s":6,"g":4,"x":2009,"v":7.8},{"s":6,"g":4,"x":2010,"v":6.3},{"s":6,"g":4,"x":2011,"v":5.4},{"s":6,"g":4,"x":2012,"v":5.0},{"s":6,"g":4,"x":2013,"v":5.0},{"s":6,"g":4,"x":2014,"v":5.4},{"s":6,"g":4,"x":2015,"v":6.5},{"s":6,"g":4,"x":2016,"v":8.7},{"s":6,"g":4,"x":2017,"v":13},{"s":6,"g":4,"x":2018,"v":22},{"s":6,"g":4,"x":2019,"v":39},
{"s":6,"g":5,"x":2008,"v":9},{"s":6,"g":5,"x":2009,"v":7.0},{"s":6,"g":5,"x":2010,"v":5.7},{"s":6,"g":5,"x":2011,"v":4.9},{"s":6,"g":5,"x":2012,"v":4.5},{"s":6,"g":5,"x":2013,"v":4.5},{"s":6,"g":5,"x":2014,"v":4.8},{"s":6,"g":5,"x":2015,"v":5.8},{"s":6,"g":5,"x":2016,"v":7.7},{"s":6,"g":5,"x":2017,"v":11.5},{"s":6,"g":5,"x":2018,"v":19.5},{"s":6,"g":5,"x":2019,"v":35},
{"s":6,"g":6,"x":2008,"v":8},{"s":6,"g":6,"x":2009,"v":6.3},{"s":6,"g":6,"x":2010,"v":5.1},{"s":6,"g":6,"x":2011,"v":4.4},{"s":6,"g":6,"x":2012,"v":4.0},{"s":6,"g":6,"x":2013,"v":4.0},{"s":6,"g":6,"x":2014,"v":4.3},{"s":6,"g":6,"x":2015,"v":5.2},{"s":6,"g":6,"x":2016,"v":6.9},{"s":6,"g":6,"x":2017,"v":10.3},{"s":6,"g":6,"x":2018,"v":17.5},{"s":6,"g":6,"x":2019,"v":31},
{"s":6,"g":7,"x":2008,"v":7},{"s":6,"g":7,"x":2009,"v":5.6},{"s":6,"g":7,"x":2010,"v":4.6},{"s":6,"g":7,"x":2011,"v":3.9},{"s":6,"g":7,"x":2012,"v":3.6},{"s":6,"g":7,"x":2013,"v":3.6},{"s":6,"g":7,"x":2014,"v":3.9},{"s":6,"g":7,"x":2015,"v":4.7},{"s":6,"g":7,"x":2016,"v":6.2},{"s":6,"g":7,"x":2017,"v":9.2},{"s":6,"g":7,"x":2018,"v":15.5},{"s":6,"g":7,"x":2019,"v":27.5},
{"s":6,"g":8,"x":2008,"v":6.2},{"s":6,"g":8,"x":2009,"v":5.0},{"s":6,"g":8,"x":2010,"v":4.1},{"s":6,"g":8,"x":2011,"v":3.5},{"s":6,"g":8,"x":2012,"v":3.2},{"s":6,"g":8,"x":2013,"v":3.2},{"s":6,"g":8,"x":2014,"v":3.5},{"s":6,"g":8,"x":2015,"v":4.2},{"s":6,"g":8,"x":2016,"v":5.5},{"s":6,"g":8,"x":2017,"v":8.2},{"s":6,"g":8,"x":2018,"v":13.7},{"s":6,"g":8,"x":2019,"v":24},
{"s":6,"g":9,"x":2008,"v":5.5},{"s":6,"g":9,"x":2009,"v":4.4},{"s":6,"g":9,"x":2010,"v":3.6},{"s":6,"g":9,"x":2011,"v":3.1},{"s":6,"g":9,"x":2012,"v":2.9},{"s":6,"g":9,"x":2013,"v":2.9},{"s":6,"g":9,"x":2014,"v":3.1},{"s":6,"g":9,"x":2015,"v":3.7},{"s":6,"g":9,"x":2016,"v":4.9},{"s":6,"g":9,"x":2017,"v":7.3},{"s":6,"g":9,"x":2018,"v":12},{"s":6,"g":9,"x":2019,"v":21},
{"s":6,"g":10,"x":2008,"v":4.8},{"s":6,"g":10,"x":2009,"v":3.8},{"s":6,"g":10,"x":2010,"v":3.2},{"s":6,"g":10,"x":2011,"v":2.7},{"s":6,"g":10,"x":2012,"v":2.5},{"s":6,"g":10,"x":2013,"v":2.5},{"s":6,"g":10,"x":2014,"v":2.7},{"s":6,"g":10,"x":2015,"v":3.3},{"s":6,"g":10,"x":2016,"v":4.3},{"s":6,"g":10,"x":2017,"v":6.3},{"s":6,"g":10,"x":2018,"v":10.4},{"s":6,"g":10,"x":2019,"v":18},
{"s":6,"g":11,"x":2008,"v":4.0},{"s":6,"g":11,"x":2009,"v":3.2},{"s":6,"g":11,"x":2010,"v":2.7},{"s":6,"g":11,"x":2011,"v":2.3},{"s":6,"g":11,"x":2012,"v":2.2},{"s":6,"g":11,"x":2013,"v":2.2},{"s":6,"g":11,"x":2014,"v":2.4},{"s":6,"g":11,"x":2015,"v":2.8},{"s":6,"g":11,"x":2016,"v":3.7},{"s":6,"g":11,"x":2017,"v":5.4},{"s":6,"g":11,"x":2018,"v":8.8},{"s":6,"g":11,"x":2019,"v":15},
{"s":6,"g":12,"x":2008,"v":3.2},{"s":6,"g":12,"x":2009,"v":2.6},{"s":6,"g":12,"x":2010,"v":2.2},{"s":6,"g":12,"x":2011,"v":1.9},{"s":6,"g":12,"x":2012,"v":1.8},{"s":6,"g":12,"x":2013,"v":1.8},{"s":6,"g":12,"x":2014,"v":2.0},{"s":6,"g":12,"x":2015,"v":2.4},{"s":6,"g":12,"x":2016,"v":3.1},{"s":6,"g":12,"x":2017,"v":4.5},{"s":6,"g":12,"x":2018,"v":7.2},{"s":6,"g":12,"x":2019,"v":12},
{"s":6,"g":13,"x":2008,"v":2.5},{"s":6,"g":13,"x":2009,"v":2.0},{"s":6,"g":13,"x":2010,"v":1.7},{"s":6,"g":13,"x":2011,"v":1.5},{"s":6,"g":13,"x":2012,"v":1.4},{"s":6,"g":13,"x":2013,"v":1.4},{"s":6,"g":13,"x":2014,"v":1.6},{"s":6,"g":13,"x":2015,"v":1.9},{"s":6,"g":13,"x":2016,"v":2.5},{"s":6,"g":13,"x":2017,"v":3.6},{"s":6,"g":13,"x":2018,"v":5.8},{"s":6,"g":13,"x":2019,"v":9.5}
]
},
"data": {"name": "d"},
"transform": [{"lookup": "s", "from": {"data": {"name": "names"}, "key": "s", "fields": ["sp"]}}],
"facet": {
  "field": "sp", "type": "nominal",
  "sort": ["Blue duiker","Chimpanzee","Forest elephant","Putty−nosed guenon","Red duiker","Red river hog"],
  "header": {"title": null, "labelFontSize": 23, "labelFontWeight": "bold", "labelFont": "Liberation Sans", "labelColor": "#111111", "labelPadding": -8}
},
"columns": 3,
"spacing": {"row": 172, "column": 155},
"bounds": "flush",
"resolve": {"axis": {"x": "independent", "y": "independent"}},
"spec": {
  "width": 266,
  "height": 222,
  "encoding": {
    "x": {"field": "x", "type": "quantitative", "scale": {"domain": [2008, 2019], "nice": false, "zero": false},
          "axis": {"title": "Year", "values": [2008,2009,2010,2011,2012,2013,2014,2015,2016,2017,2018,2019], "format": "d"}},
    "y": {"field": "v", "type": "quantitative", "scale": {"domain": [0, 60], "nice": false},
          "axis": {"title": "Relative detection rate", "values": [0,10,20,30,40,50,60]}}
  },
  "layer": [
    {"transform": [{"filter": "datum.g == 0"}],
     "mark": {"type": "point", "filled": true, "size": 85, "color": "#3a7bbd", "opacity": 0.5, "strokeWidth": 0}},
    {"transform": [{"filter": "datum.g > 0"}],
     "mark": {"type": "line", "interpolate": "monotone", "strokeWidth": 3.4, "color": "#2f72b3", "opacity": 0.62},
     "encoding": {"detail": {"field": "g", "type": "nominal"}}}
  ]
},
"config": {
  "font": "Liberation Sans",
  "view": {"stroke": null},
  "axis": {"grid": false, "domainColor": "#222222", "tickColor": "#222222", "labelColor": "#222222", "titleColor": "#111111",
           "domainWidth": 1.4, "tickWidth": 1.4, "titleFontWeight": "normal", "tickSize": 11, "offset": 10,
           "labelOverlap": false, "labelFlush": false},
  "axisX": {"labelAngle": 270, "labelAlign": "right", "labelBaseline": "middle", "labelFontSize": 16.5, "labelPadding": 11, "titleFontSize": 22, "titlePadding": 18},
  "axisY": {"labelAngle": 270, "labelAlign": "center", "labelBaseline": "alphabetic", "labelFontSize": 19, "labelPadding": 14, "titleFontSize": 22, "titlePadding": 26}
}
}
